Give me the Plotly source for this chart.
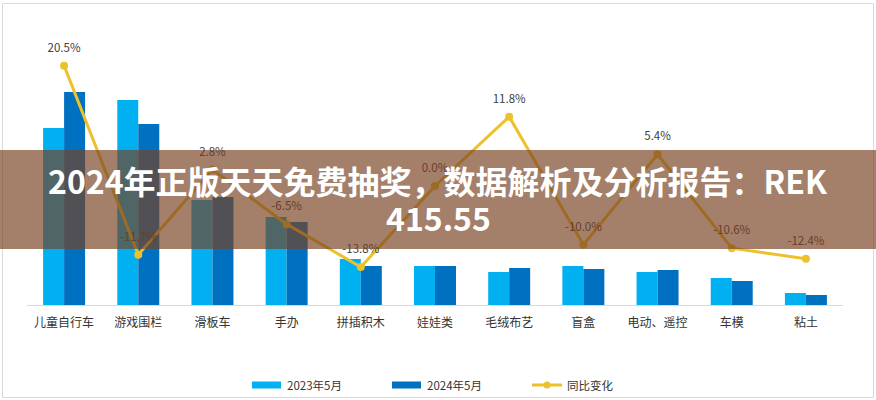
import plotly.graph_objects as go

categories = ["儿童自行车", "游戏围栏", "滑板车", "手办", "拼插积木", "娃娃类",
              "毛绒布艺", "盲盒", "电动、遥控", "车模", "粘土"]
sales_2023 = [17.7, 20.5, 10.5, 8.8, 4.6, 3.9, 3.3, 3.9, 3.3, 2.7, 1.2]
sales_2024 = [21.3, 18.1, 10.8, 8.3, 3.9, 3.9, 3.7, 3.6, 3.5, 2.4, 1.0]
yoy_change = [20.5, -11.7, 2.8, -6.5, -13.8, 0.0, 11.8, -10.0, 5.4, -10.6, -12.4]
yoy_labels = [f"{v:.1f}%" for v in yoy_change]
series_names = ["2023年5月", "2024年5月", "同比变化"]
title_lines = ["2024年正版天天免费抽奖，数据解析及分析报告：REK", "415.55"]

W, H = 876, 400
ML, MR, MT, MB = 27, 33, 20, 95
PW, PH = W - ML - MR, H - MT - MB


def px(x):
    return (x - ML) / PW


def py(y):
    return (H - MB - y) / PH


C_LIGHT = "#00B0F0"
C_DARK = "#0070C0"
C_LINE = "#EDC12C"
FONT = "Noto Sans CJK SC"

fig = go.Figure()
fig.add_trace(go.Bar(x=categories, y=sales_2023, name=series_names[0],
                     marker=dict(color=C_LIGHT, line=dict(width=0))))
fig.add_trace(go.Bar(x=categories, y=sales_2024, name=series_names[1],
                     marker=dict(color=C_DARK, line=dict(width=0))))
fig.add_trace(go.Scatter(x=categories, y=yoy_change, name=series_names[2], yaxis="y2",
                         mode="lines+markers",
                         line=dict(color=C_LINE, width=3),
                         marker=dict(color=C_LINE, size=8)))
# data labels (transparent larger markers give the label offset)
fig.add_trace(go.Scatter(x=categories, y=yoy_change, yaxis="y2", showlegend=False,
                         mode="markers+text", text=yoy_labels, textposition="top center",
                         textfont=dict(family=FONT, size=11.5, color="#404040"),
                         marker=dict(color="rgba(0,0,0,0)", size=16),
                         hoverinfo="skip"))

shapes = []
# outer frame
shapes.append(dict(type="rect", xref="paper", yref="paper",
                   x0=px(2.5), x1=px(873.5), y0=py(397.5), y1=py(3.5),
                   line=dict(color="#D9D9D9", width=1), fillcolor="rgba(0,0,0,0)",
                   layer="below"))
# banner overlay
shapes.append(dict(type="rect", xref="paper", yref="paper",
                   x0=px(0), x1=px(W), y0=py(249), y1=py(150),
                   line=dict(width=0), fillcolor="rgba(119,64,33,0.67)", layer="above"))

annotations = []
# custom legend
leg_y = 385
leg_items = [(252, C_LIGHT, "bar"), (392, C_DARK, "bar"), (532, C_LINE, "line")]
for (x0, col, kind), name in zip(leg_items, series_names):
    if kind == "bar":
        shapes.append(dict(type="rect", xref="paper", yref="paper",
                           x0=px(x0), x1=px(x0 + 29), y0=py(leg_y + 3.5), y1=py(leg_y - 3.5),
                           line=dict(width=0), fillcolor=col))
    else:
        shapes.append(dict(type="line", xref="paper", yref="paper",
                           x0=px(x0), x1=px(x0 + 30), y0=py(leg_y), y1=py(leg_y),
                           line=dict(color=col, width=3)))
        shapes.append(dict(type="circle", xref="paper", yref="paper",
                           x0=px(x0 + 11.5), x1=px(x0 + 18.5),
                           y0=py(leg_y + 3.5), y1=py(leg_y - 3.5),
                           line=dict(width=0), fillcolor=col))
    annotations.append(dict(xref="paper", yref="paper", x=px(x0 + 33), y=py(leg_y),
                            xanchor="left", yanchor="middle", showarrow=False, text=name,
                            font=dict(family=FONT, size=11.5, color="#333333")))

# title over banner
for txt, yc in zip(title_lines, [180, 217]):
    annotations.append(dict(xref="paper", yref="paper", x=px(438), y=py(yc),
                            xanchor="center", yanchor="middle", showarrow=False,
                            text=f"<b>{txt}</b>",
                            font=dict(family=FONT, size=32, color="#FFFFFF")))

fig.update_layout(
    width=W, height=H,
    margin=dict(l=ML, r=MR, t=MT, b=MB),
    paper_bgcolor="white", plot_bgcolor="white",
    barmode="group", bargap=0.434, bargroupgap=0,
    showlegend=False,
    shapes=shapes, annotations=annotations,
    font=dict(family=FONT),
    xaxis=dict(range=[-0.5, len(categories) - 0.5], showgrid=False, showline=True,
               linecolor="#D9D9D9", linewidth=1,
               ticks="outside", ticklen=7, tickcolor="rgba(0,0,0,0)",
               tickfont=dict(family=FONT, size=12, color="#333333"),
               fixedrange=True),
    yaxis=dict(range=[0, PH / 10], visible=False, showgrid=False, zeroline=False),
    yaxis2=dict(range=[-(H - MB - 186) / 5.87, (186 - MT) / 5.87], overlaying="y",
                side="right", visible=False, showgrid=False, zeroline=False),
)

fig.write_html("out.html")
